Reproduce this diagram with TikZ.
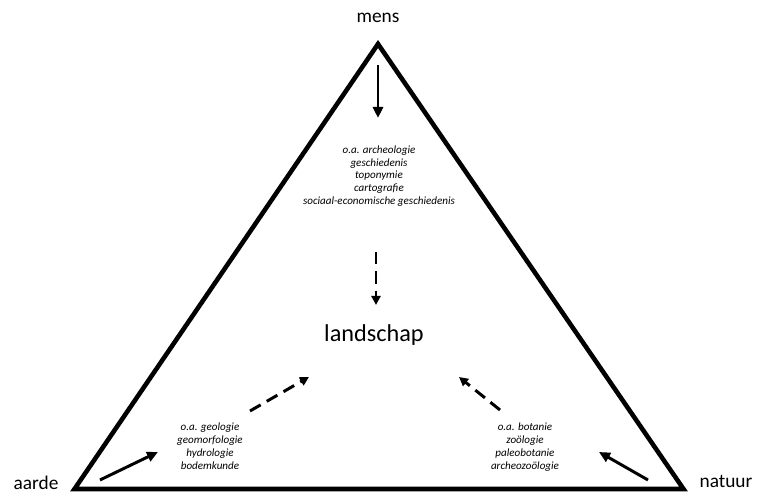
\documentclass[tikz,border=0pt]{standalone}
\usepackage{fontspec}
\setmainfont{Carlito}
\usetikzlibrary{arrows.meta}

\tikzset{
  hoek/.style={font=\fontsize{11}{13}\selectfont, inner sep=1pt},
  vak/.style={font=\fontsize{6.3}{7.3}\selectfont\itshape, align=center, inner sep=1pt},
  pijl/.style={-{Triangle[length=2.2mm, width=2mm]}, line width=1.7pt},
  stippelpijl/.style={-{Triangle[length=1.8mm, width=1.8mm]}, line width=1.7pt,
    dash pattern=on 7pt off 4pt}
}

\begin{document}
\begin{tikzpicture}[line join=miter]

\useasboundingbox (0,0) rectangle (15.4,10);

% ── Triangle ──
\coordinate (top) at (7.56,9.12);
\coordinate (links) at (1.49,0.22);
\coordinate (rechts) at (13.67,0.22);
\draw[line width=2.6pt] (top) -- (links) -- (rechts) -- cycle;

% ── Corner labels ──
\node[hoek] (mens) at (7.56,9.64) {mens};
\node[hoek] (aarde) at (0.72,0.35) {aarde};
\node[hoek] (natuur) at (14.52,0.37) {natuur};

% ── Disciplines ──
\node[vak] (mensvak) at (7.58,6.48) {o.a. archeologie\\geschiedenis\\toponymie\\cartografie\\sociaal-economische geschiedenis};
\node[vak] (aardevak) at (4.2,1.08) {o.a. geologie\\geomorfologie\\hydrologie\\bodemkunde};
\node[vak] (natuurvak) at (10.5,1.06) {o.a. botanie\\zoölogie\\paleobotanie\\archeozoölogie};

% ── Centre ──
\node[font=\fontsize{13.8}{16}\selectfont] (landschap) at (7.48,3.3) {landschap};

% ── Arrow end points ──
\coordinate (m1) at (7.56,8.7);
\coordinate (m2) at (7.56,7.64);
\coordinate (m3) at (7.52,4.96);
\coordinate (m4) at (7.52,3.9);
\coordinate (a1) at (2.0,0.4);
\coordinate (a2) at (3.16,0.96);
\coordinate (a3) at (5.0,1.78);
\coordinate (a4) at (6.18,2.46);
\coordinate (n1) at (12.96,0.4);
\coordinate (n2) at (11.98,0.96);
\coordinate (n3) at (10.0,1.8);
\coordinate (n4) at (9.18,2.46);

% ── Arrows ──
\draw[pijl] (m1) -- (m2);
\draw[pijl] (a1) -- (a2);
\draw[pijl] (n1) -- (n2);
\draw[stippelpijl] (m3) -- (m4);
\draw[stippelpijl] (a3) -- (a4);
\draw[stippelpijl] (n3) -- (n4);

\end{tikzpicture}
\end{document}
